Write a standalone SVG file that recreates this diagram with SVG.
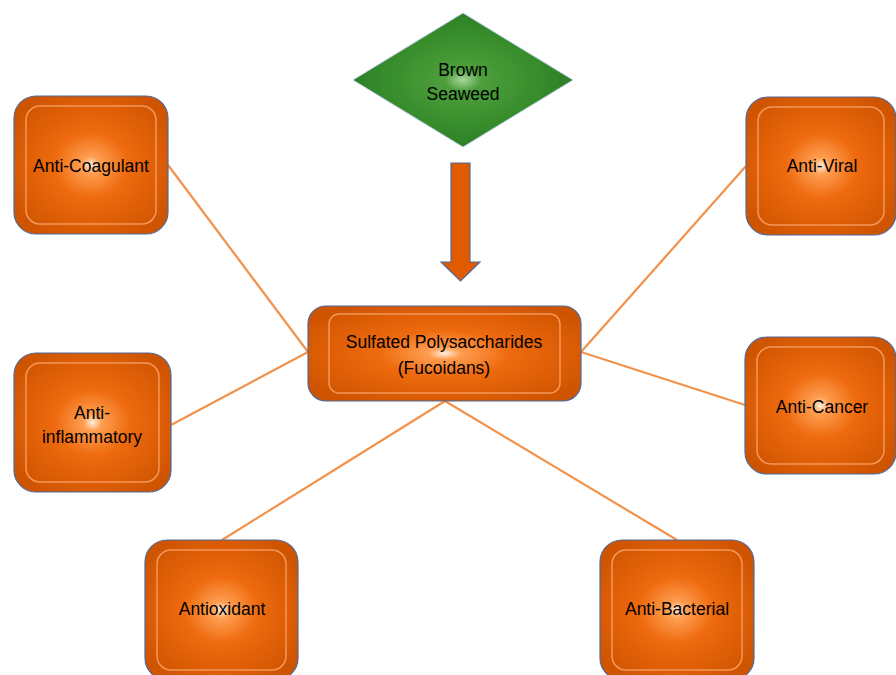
<svg xmlns="http://www.w3.org/2000/svg" width="896" height="675" viewBox="0 0 896 675">
<defs>
<radialGradient id="og" cx="50%" cy="50%" r="60%">
<stop offset="0" stop-color="#FFF0E0"/>
<stop offset="0.1" stop-color="#FF9E50"/>
<stop offset="0.4" stop-color="#EE6A0E"/>
<stop offset="1" stop-color="#CF5400"/>
</radialGradient>
<radialGradient id="gg" cx="50%" cy="50%" r="55%">
<stop offset="0" stop-color="#A8D8A0"/>
<stop offset="0.15" stop-color="#4E9E3C"/>
<stop offset="0.6" stop-color="#388E2C"/>
<stop offset="1" stop-color="#2C7A25"/>
</radialGradient>
<style>
.box{fill:url(#og);stroke:#4F6A9A;stroke-width:1.2}
.inner{fill:none;stroke:#F4975A;stroke-width:1.5}
.t{font-family:"Liberation Sans",Arial,sans-serif;font-size:17.5px;fill:#000;text-anchor:middle}
.c{stroke:#F2914A;stroke-width:2.2;fill:none}
</style>
</defs>
<rect width="896" height="675" fill="#fff"/>
<g id="connectors">
<line class="c" x1="168" y1="165" x2="308" y2="352"/>
<line class="c" x1="171" y1="425" x2="308" y2="352"/>
<line class="c" x1="746" y1="166" x2="581" y2="352"/>
<line class="c" x1="745" y1="405" x2="581" y2="352"/>
<line class="c" x1="222" y1="540" x2="445" y2="401"/>
<line class="c" x1="677" y1="540" x2="445" y2="401"/>
<path d="M451,163 H470 V262 H480 L460.5,281 L441,262 H451 Z" fill="#E05A00" stroke="#4F6A9A" stroke-width="1.2"/>
</g>
<g id="brown-seaweed">
<polygon points="463,13 573,80 463,147 353,80" fill="url(#gg)" stroke="#B8CCE4" stroke-width="1"/>
<text class="t" x="463" y="76">Brown</text>
<text class="t" x="463" y="100">Seaweed</text>
</g>
<g id="center">
<rect class="box" x="308" y="306" width="273" height="95" rx="18"/>
<rect class="inner" x="329" y="314" width="231" height="79" rx="10"/>
<text class="t" x="444" y="348">Sulfated Polysaccharides</text>
<text class="t" x="444" y="374">(Fucoidans)</text>
</g>
<g id="anti-coagulant">
<rect class="box" x="14" y="96" width="154" height="138" rx="22"/>
<rect class="inner" x="26" y="106" width="130" height="118" rx="14"/>
<text class="t" x="91" y="172">Anti-Coagulant</text>
</g>
<g id="anti-viral">
<rect class="box" x="746" y="97" width="150" height="138" rx="22"/>
<rect class="inner" x="758" y="107" width="126" height="118" rx="14"/>
<text class="t" x="822" y="172">Anti-Viral</text>
</g>
<g id="anti-inflammatory">
<rect class="box" x="14" y="353" width="157" height="139" rx="22"/>
<rect class="inner" x="26" y="363" width="133" height="119" rx="14"/>
<text class="t" x="92" y="419">Anti-</text>
<text class="t" x="92" y="443">inflammatory</text>
</g>
<g id="anti-cancer">
<rect class="box" x="745" y="337" width="151" height="137" rx="22"/>
<rect class="inner" x="757" y="347" width="127" height="117" rx="14"/>
<text class="t" x="822" y="413">Anti-Cancer</text>
</g>
<g id="antioxidant">
<rect class="box" x="145" y="540" width="153" height="140" rx="22"/>
<rect class="inner" x="157" y="550" width="129" height="120" rx="14"/>
<text class="t" x="222" y="615">Antioxidant</text>
</g>
<g id="anti-bacterial">
<rect class="box" x="600" y="540" width="154" height="140" rx="22"/>
<rect class="inner" x="612" y="550" width="130" height="120" rx="14"/>
<text class="t" x="677" y="615">Anti-Bacterial</text>
</g>
</svg>
